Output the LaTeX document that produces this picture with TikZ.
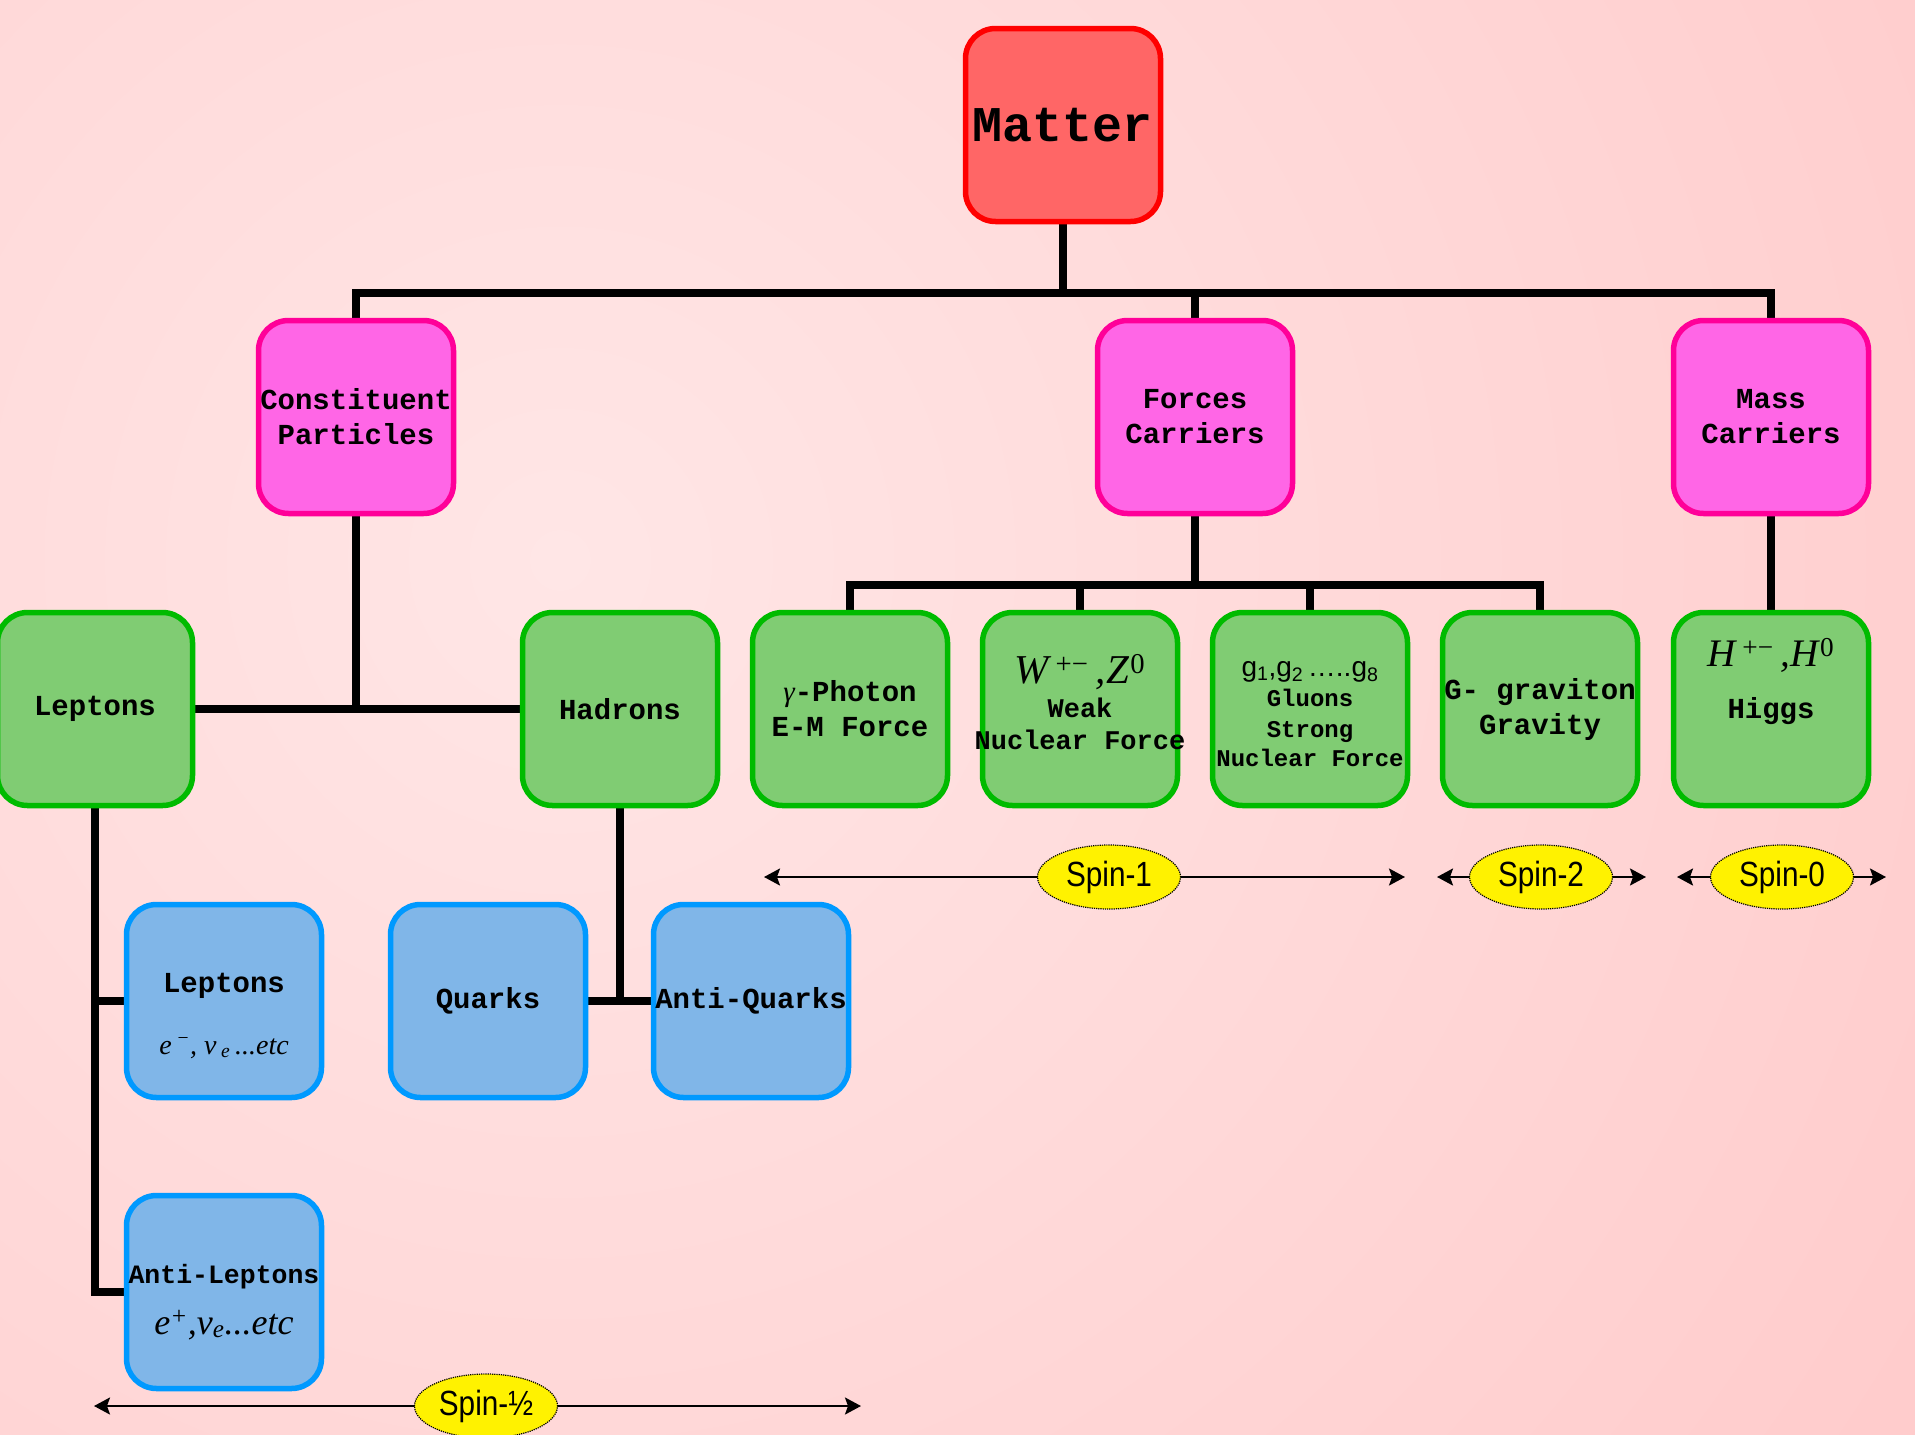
\documentclass[tikz,border=0pt]{standalone}
\usepackage{fontspec}
\setmainfont{Liberation Serif}
\setmonofont{Liberation Mono}
\newfontfamily\sansf{Liberation Sans}
\newfontfamily\spinf[FakeStretch=0.85]{Liberation Sans}
\usetikzlibrary{arrows.meta,shapes.geometric,backgrounds}
\definecolor{bgin}{HTML}{FFE6E6}
\definecolor{bgout}{HTML}{FFCACA}
\definecolor{redfill}{HTML}{FF6666}
\definecolor{redline}{HTML}{FF0000}
\definecolor{pinkfill}{HTML}{FF66E6}
\definecolor{pinkline}{HTML}{FF0099}
\definecolor{greenfill}{HTML}{80CC73}
\definecolor{greenline}{HTML}{00BB00}
\definecolor{bluefill}{HTML}{80B6E8}
\definecolor{blueline}{HTML}{0099FF}
\begin{document}
\begin{tikzpicture}[x=1pt,y=-1pt,
  bx/.style={rounded corners=30pt, line width=5.5pt, minimum width=195pt, minimum height=193pt,
    inner sep=0pt, align=center, font=\ttfamily\bfseries\fontsize{29}{35}\selectfont},
  redbox/.style={bx, draw=redline, fill=redfill},
  pinkbox/.style={bx, draw=pinkline, fill=pinkfill},
  greenbox/.style={bx, draw=greenline, fill=greenfill},
  bluebox/.style={bx, draw=blueline, fill=bluefill},
  lbl/.style={inner sep=0pt, anchor=base},
  mono/.style={lbl, font=\ttfamily\bfseries\fontsize{#1}{#1}\selectfont},
  conn/.style={line width=8pt, black},
  spinline/.style={line width=2.2pt, black,
    {Stealth[length=16pt,width=17pt,inset=3pt]}-{Stealth[length=16pt,width=17pt,inset=3pt]}},
  spinlabel/.style={ellipse, draw=black, densely dotted, line width=1.2pt, fill=yellow,
    minimum width=143pt, minimum height=64pt, inner sep=0pt,
    font=\spinf\fontsize{35}{35}\selectfont}
]
\useasboundingbox (0,0) rectangle (1915,1435);
\begin{pgfonlayer}{background}
  \begin{scope}
    \clip (0,0) rectangle (1915,1435);
    \fill[bgout] (0,0) rectangle (1915,1435);
    \shade[inner color=bgin, outer color=bgout] (560,560) circle (1700);
  \end{scope}
\end{pgfonlayer}

% level 1
\node[redbox, font=\ttfamily\bfseries\fontsize{50}{55}\selectfont] (matter) at (1063,125) {Matter};
% level 2
\node[pinkbox] (constituent) at (356,417) {Constituent\\Particles};
\node[pinkbox] (forces) at (1195,417) {Forces\\Carriers};
\node[pinkbox] (mass) at (1771,417) {Mass\\Carriers};
% level 3
\node[greenbox] (leptonsG) at (95,709) {Leptons};
\node[greenbox] (hadrons) at (620,709) {Hadrons};
\node[greenbox] (photon) at (850,709) {{\rmfamily\mdseries\itshape γ}-Photon\\E-M Force};
\node[greenbox] (weak) at (1080,709) {};
\node[greenbox] (gluons) at (1310,709) {};
\node[greenbox] (graviton) at (1540,709) {G- graviton\\Gravity};
\node[greenbox] (higgs) at (1771,709) {};
% level 4
\node[bluebox] (leptonsB) at (224,1001) {};
\node[bluebox] (quarks) at (488,1001) {Quarks};
\node[bluebox] (antiquarks) at (751,1001) {Anti-Quarks};
\node[bluebox] (antileptons) at (224,1292) {};

% labels inside boxes
\node[lbl, font=\rmfamily\itshape\fontsize{41}{41}\selectfont] (wt1) at (1080,683)
  {W\,\textsuperscript{\upshape +−}\,,\kern1pt Z\kern1pt\textsuperscript{\upshape 0}};
\node[mono=27] (wt2) at (1080,717) {Weak};
\node[mono=27] (wt3) at (1080,749) {Nuclear Force};
\node[lbl, font=\sansf\fontsize{28}{28}\selectfont] (gt1) at (1310,676)
  {g\textsubscript{1},g\textsubscript{2}\,…..g\textsubscript{8}};
\node[mono=24] (gt2) at (1310,706) {Gluons};
\node[mono=24] (gt3) at (1310,737) {Strong};
\node[mono=24] (gt4) at (1310,766) {Nuclear Force};
\node[lbl, font=\rmfamily\itshape\fontsize{39}{39}\selectfont] (ht1) at (1771,666)
  {H\,\textsuperscript{\upshape +−}\,,\kern1pt H\kern1pt\textsuperscript{\upshape 0}};
\node[mono=29] (ht2) at (1771,718) {Higgs};
\node[mono=29] (lbt1) at (224,992) {Leptons};
\node[lbl, font=\rmfamily\itshape\fontsize{28}{28}\selectfont] (lbt2) at (224,1054)
  {e\,\textsuperscript{−}, v\,\textsubscript{e}\,...etc};
\node[mono=26.5] (alt1) at (224,1283) {Anti-Leptons};
\node[lbl, font=\rmfamily\itshape\fontsize{36}{36}\selectfont] (alt2) at (224,1334)
  {e\textsuperscript{+},v\textsubscript{e}...etc};

% connectors
\coordinate (bus1) at (1063,293);
\coordinate (bus2) at (1195,585);
\begin{pgfonlayer}{background}
  \draw[conn] (matter.south) -- (bus1);
  \draw[conn] (constituent.north) |- (bus1) -| (mass.north);
  \draw[conn] (forces.north) -- (forces.north |- bus1);
  \draw[conn] (forces.south) -- (bus2);
  \draw[conn] (photon.north) |- (bus2) -| (graviton.north);
  \draw[conn] (weak.north) -- (weak.north |- bus2);
  \draw[conn] (gluons.north) -- (gluons.north |- bus2);
  \draw[conn] (mass.south) -- (higgs.north);
  \draw[conn] (leptonsG.east) -- (hadrons.west);
  \draw[conn] (constituent.south) -- (constituent.south |- leptonsG.east);
  \draw[conn] (leptonsG.south) |- (antileptons.west);
  \draw[conn] (leptonsB.west) -- (leptonsB.west -| leptonsG.south);
  \draw[conn] (quarks.east) -- (antiquarks.west);
  \draw[conn] (hadrons.south) -- (hadrons.south |- quarks.east);
\end{pgfonlayer}

% spin arrows
\coordinate (s1l) at (764,877);  \coordinate (s1r) at (1405,877);
\coordinate (s2l) at (1437,877); \coordinate (s2r) at (1646,877);
\coordinate (s0l) at (1677,877); \coordinate (s0r) at (1886,877);
\coordinate (shl) at (94,1406);  \coordinate (shr) at (861,1406);
\draw[spinline] (s1l) -- (s1r);
\draw[spinline] (s2l) -- (s2r);
\draw[spinline] (s0l) -- (s0r);
\draw[spinline] (shl) -- (shr);
\node[spinlabel] (spin1) at (1109,877) {Spin-1};
\node[spinlabel] (spin2) at (1541,877) {Spin-2};
\node[spinlabel] (spin0) at (1782,877) {Spin-0};
\node[spinlabel] (spinhalf) at (486,1406) {Spin-½};
\end{tikzpicture}
\end{document}
